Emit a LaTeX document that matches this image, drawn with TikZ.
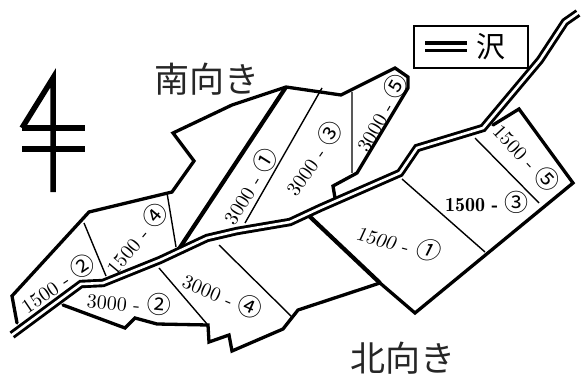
\documentclass[tikz,border=0pt]{standalone}
\usepackage{fontspec}
\newfontfamily\labfont[Extension=.otf]{lmroman10-regular}
\newfontfamily\labbold[Extension=.otf]{lmromandemi10-regular}
\newfontfamily\labslant[Extension=.otf]{lmromanslant10-regular}
\newfontfamily\cjk{Noto Sans CJK JP}
\newfontfamily\cjkslant[FakeSlant=0.2]{Noto Sans CJK JP}
\newcommand{\circd}[1]{{\cjk\fontsize{24}{24}\selectfont #1}}
\newcommand{\circs}[1]{{\cjkslant\fontsize{24}{24}\selectfont #1}}
\tikzset{
  edge/.style={line width=3.3pt,line join=miter,line cap=round},
  div/.style={line width=1.4pt},
  plotlabel/.style={font=\labfont\fontsize{20}{20}\selectfont,inner sep=0pt,anchor=center},
  bigtext/.style={font=\cjk\fontsize{35}{35}\selectfont,inner sep=0pt,text=black!85},
}
\begin{document}
\begin{tikzpicture}[x=1pt,y=-1pt]
\useasboundingbox (0,0) rectangle (583,374);
% north sign
\draw[line width=5.5pt,line join=miter] (22,128) -- (53,78) -- (53,192);
\draw[line width=6pt] (22,128) -- (85,128) (22,149) -- (85,149);
% north-facing side outlines
\draw[edge] (17,323) -- (12,296) -- (89,212) -- (172,192) -- (194,161) -- (173,133) -- (232,105) -- (286,87) -- (341,95) -- (395,68) -- (408,77) -- (408,88) -- (357,173) -- (333,186) -- (335,198);
\draw[line width=4.2pt] (286,87) -- (177,252);
% south side outlines
\draw[edge] (63,305) -- (125,328) -- (135,318) -- (157,324) -- (208,325) -- (209,342) -- (229,335) -- (232,351) -- (283,329) -- (298,310) -- (380,283);
\draw[line width=4.2pt] (306,213) -- (380,283);
\draw[edge] (380,283) -- (415,313) -- (573,183) -- (519,109) -- (493,125);
% dividers
\draw[div] (84,223) -- (106,276) (167,193) -- (176,247) (322,88) -- (245,223) (352,92) -- (352,173);
\draw[div] (159,268) -- (207,324) (219,245) -- (292,317) (402,179) -- (485,252) (475,138) -- (539,203);
% stream
\draw[line width=8.4pt,line join=miter] (12,335) -- (81,284) -- (103,283) -- (160,260) -- (207,238) -- (237,231) -- (290,222) -- (320,208) -- (400,173) -- (417,148) -- (483,128) -- (540,60) -- (565,22) -- (578,13);
\draw[line width=2.6pt,white,line join=miter] (10,336.5) -- (81,284) -- (103,283) -- (160,260) -- (207,238) -- (237,231) -- (290,222) -- (320,208) -- (400,173) -- (417,148) -- (483,128) -- (540,60) -- (565,22) -- (580,11.5);
% labels
\node[plotlabel,rotate=34] (a) at (57,283) {1500 - \circd{②}};
\node[plotlabel,rotate=50] (b) at (136,238) {1500 - \circd{④}};
\node[plotlabel,rotate=-5] (c) at (129,302) {3000 - \circd{②}};
\node[plotlabel,rotate=-23] (d) at (223,295) {3000 - \circd{④}};
\node[plotlabel,rotate=58] (e) at (249,186) {3000 - \circd{①}};
\node[plotlabel,rotate=55] (f) at (313,158) {3000 - \circd{③}};
\node[plotlabel,rotate=60] (g) at (381,113) {3000 - \circd{⑤}};
\node[plotlabel,rotate=-47] (h) at (527,157) {1500 - \circd{⑤}};
\node[plotlabel,font=\labbold\fontsize{20}{20}\selectfont] (i) at (487,202) {1500 - \circd{③}};
\node[plotlabel,rotate=-15,font=\labslant\fontsize{20}{20}\selectfont] (j) at (398,242) {1500 - \circs{①}};
% titles
\node[bigtext] (s) at (207,79) {南向き};
\node[bigtext] (n) at (403,358) {北向き};
% legend
\node[draw,line width=1.6pt,minimum width=114pt,minimum height=42pt,inner sep=0pt] (lg) at (471,47) {};
\draw[line width=3.6pt] (425,43.3) -- (467,43.3) (425,50.7) -- (467,50.7);
\node[font=\cjk\fontsize{29}{29}\selectfont,inner sep=0pt] (lt) at (491,47) {沢};
\end{tikzpicture}
\end{document}
